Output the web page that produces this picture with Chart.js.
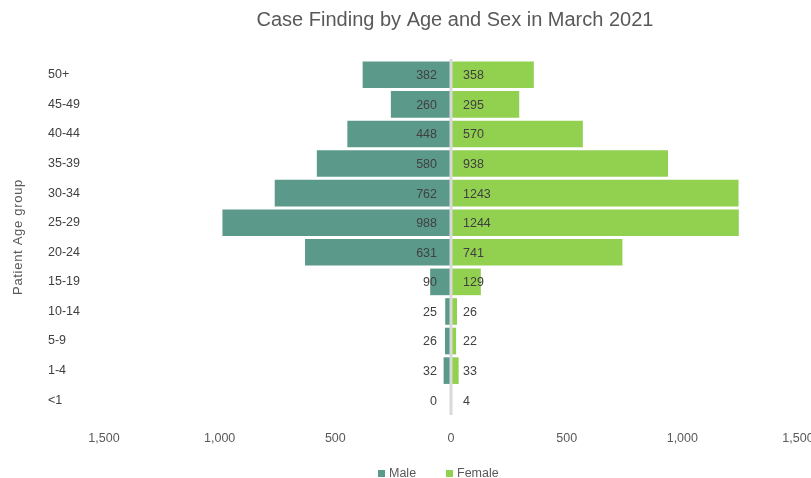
<!DOCTYPE html>
<html>
<head>
<meta charset="utf-8">
<script src="https://cdn.jsdelivr.net/npm/chart.js@4.4.1/dist/chart.umd.min.js"></script>
<style>
  html, body { margin: 0; padding: 0; background: #ffffff; }
  #wrap { width: 811px; height: 478px; position: relative; }
</style>
</head>
<body>
<div id="wrap"><canvas id="c" width="811" height="478"></canvas></div>
<script>
const categories = ['50+', '45-49', '40-44', '35-39', '30-34', '25-29', '20-24', '15-19', '10-14', '5-9', '1-4', '<1'];
const maleValues = [382, 260, 448, 580, 762, 988, 631, 90, 25, 26, 32, 0];
const femaleValues = [358, 295, 570, 938, 1243, 1244, 741, 129, 26, 22, 33, 4];
const xTickValues = [-1500, -1000, -500, 0, 500, 1000, 1500];
const seriesNames = ['Male', 'Female'];
const chartTitle = 'Case Finding by Age and Sex in March 2021';
const yAxisTitle = 'Patient Age group';

const MALE_COLOR = '#5b9a8b';
const FEMALE_COLOR = '#92d050';
const FONT = '"Liberation Sans", Arial, sans-serif';

const overlayPlugin = {
  id: 'overlay',
  afterDatasetsDraw(chart) {
    const ctx = chart.ctx;
    const xs = chart.scales.x, ys = chart.scales.y;
    const x0 = xs.getPixelForValue(0);
    ctx.save();
    ctx.strokeStyle = '#d9d9d9';
    ctx.lineWidth = 3;
    ctx.beginPath();
    ctx.moveTo(x0, chart.chartArea.top - 1);
    ctx.lineTo(x0, chart.chartArea.bottom);
    ctx.stroke();
    ctx.font = '12.5px ' + FONT;
    ctx.fillStyle = '#404040';
    ctx.textBaseline = 'middle';
    categories.forEach((c, i) => {
      const y = ys.getPixelForValue(i);
      ctx.textAlign = 'right';
      ctx.fillText(String(maleValues[i]), x0 - 14, y + 1);
      ctx.textAlign = 'left';
      ctx.fillText(String(femaleValues[i]), x0 + 12, y + 1);
    });
    ctx.restore();
  },
  afterDraw(chart) {
    const ctx = chart.ctx;
    ctx.save();
    ctx.font = '20px ' + FONT;
    ctx.fillStyle = '#595959';
    ctx.textAlign = 'center';
    ctx.textBaseline = 'middle';
    ctx.fillText(chartTitle, 455, 20);
    ctx.save();
    ctx.translate(18, 237);
    ctx.rotate(-Math.PI / 2);
    ctx.font = '13px ' + FONT;
    try { ctx.letterSpacing = '0.7px'; } catch (e) {}
    ctx.fillStyle = '#595959';
    ctx.fillText(yAxisTitle, 0, 0);
    ctx.restore();
    ctx.font = '12.5px ' + FONT;
    ctx.textAlign = 'left';
    ctx.textBaseline = 'middle';
    const items = [
      { name: seriesNames[0], color: MALE_COLOR, x: 378 },
      { name: seriesNames[1], color: FEMALE_COLOR, x: 446 }
    ];
    items.forEach(it => {
      ctx.fillStyle = it.color;
      ctx.fillRect(it.x, 470, 7, 7);
      ctx.fillStyle = '#595959';
      ctx.fillText(it.name, it.x + 11, 474);
    });
    ctx.restore();
  }
};

new Chart(document.getElementById('c'), {
  type: 'bar',
  data: {
    labels: categories,
    datasets: [
      {
        label: seriesNames[0],
        data: maleValues.map(v => -v),
        backgroundColor: MALE_COLOR,
        borderWidth: 0,
        barPercentage: 0.9,
        categoryPercentage: 1.0
      },
      {
        label: seriesNames[1],
        data: femaleValues,
        backgroundColor: FEMALE_COLOR,
        borderWidth: 0,
        barPercentage: 0.9,
        categoryPercentage: 1.0
      }
    ]
  },
  options: {
    indexAxis: 'y',
    responsive: false,
    animation: false,
    layout: { padding: { left: 48, right: 0, top: 60, bottom: 32 } },
    plugins: {
      legend: { display: false },
      title: { display: false },
      tooltip: { enabled: false }
    },
    scales: {
      x: {
        stacked: true,
        min: -1500,
        max: 1500,
        afterBuildTicks(scale) {
          scale.ticks = xTickValues.map(v => ({ value: v }));
        },
        afterFit(scale) { scale.height = 31; scale.paddingRight = 13; scale.paddingLeft = 0; },
        grid: { display: false, drawTicks: true, tickLength: 16 },
        border: { display: false },
        ticks: {
          padding: 0,
          maxRotation: 0,
          color: '#595959',
          font: { family: FONT, size: 12.5 },
          callback: v => Math.abs(v).toLocaleString('en-US')
        }
      },
      y: {
        stacked: true,
        grid: { display: false, drawTicks: false },
        border: { display: false },
        afterFit(scale) { scale.width = 56; },
        ticks: {
          crossAlign: 'far',
          padding: 0,
          color: '#404040',
          font: { family: FONT, size: 12.5 },
          autoSkip: false
        }
      }
    }
  },
  plugins: [overlayPlugin]
});
</script>
</body>
</html>
